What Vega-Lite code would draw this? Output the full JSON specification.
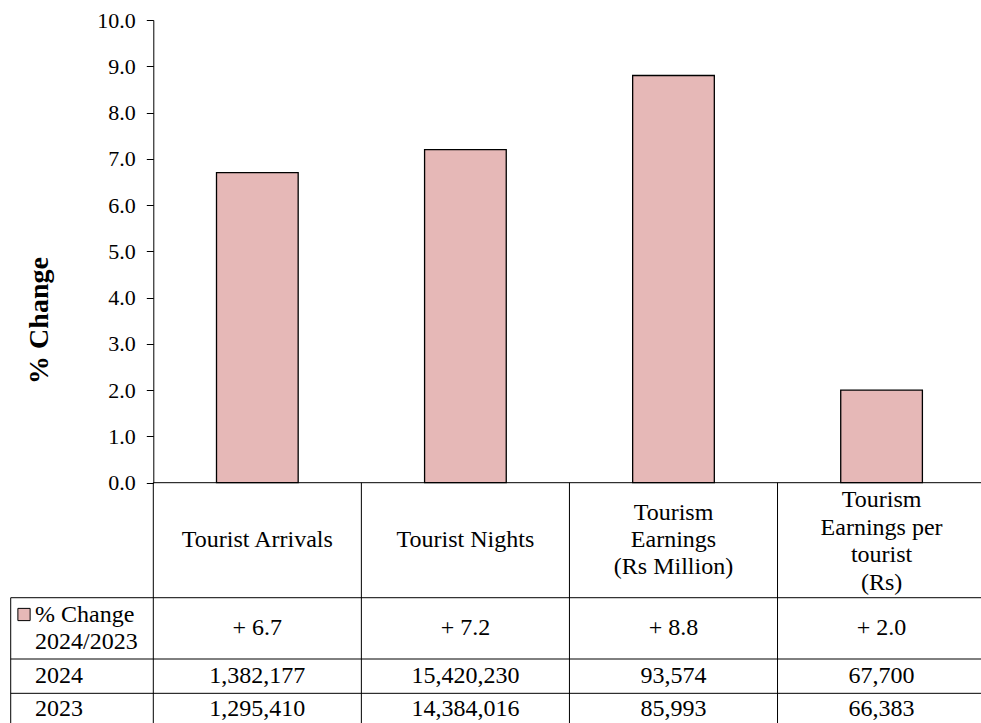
{
  "$schema": "https://vega.github.io/schema/vega-lite/v6.json",
  "width": 827.7,
  "height": 462.7,
  "autosize": {"type": "none"},
  "padding": {"left": 153.3, "top": 20, "right": 0, "bottom": 240.3},
  "background": "white",
  "config": {"view": {"stroke": null}, "font": "Liberation Serif"},
  "data": {
    "values": [
      {"category": "Tourist Arrivals", "header": "Tourist Arrivals", "pct": 6.7, "pctLabel": "+ 6.7", "y2024": 1382177, "y2023": 1295410},
      {"category": "Tourist Nights", "header": "Tourist Nights", "pct": 7.2, "pctLabel": "+ 7.2", "y2024": 15420230, "y2023": 14384016},
      {"category": "Tourism Earnings (Rs Million)", "header": "Tourism\nEarnings\n(Rs Million)", "pct": 8.8, "pctLabel": "+ 8.8", "y2024": 93574, "y2023": 85993},
      {"category": "Tourism Earnings per tourist (Rs)", "header": "Tourism\nEarnings per\ntourist\n(Rs)", "pct": 2.0, "pctLabel": "+ 2.0", "y2024": 67700, "y2023": 66383}
    ]
  },
  "resolve": {"scale": {"x": "independent"}},
  "layer": [
    {
      "layer": [
        {
          "mark": {"type": "bar", "fill": "#E6B8B7", "stroke": "#000000", "strokeWidth": 1.3},
          "encoding": {
            "x": {"field": "category", "type": "nominal", "sort": null, "axis": null,
                  "scale": {"range": [0, 832.3], "paddingInner": 0.6075, "paddingOuter": 0.30375}},
            "y": {"field": "pct", "type": "quantitative",
                  "scale": {"domain": [0, 10], "nice": false},
                  "axis": {"title": "% Change", "titleFont": "Liberation Serif", "titleFontSize": 28, "titleFontWeight": "bold",
                           "titleColor": "#000000", "titleX": -105.5, "titleY": 300, "titleAngle": -90, "titleAlign": "center",
                           "titleBaseline": "alphabetic",
                           "values": [0, 1, 2, 3, 4, 5, 6, 7, 8, 9, 10], "format": ".1f",
                           "labelFont": "Liberation Serif", "labelFontSize": 22, "labelColor": "#000000", "labelPadding": 11,
                           "labelFlush": false, "labelOverlap": false,
                           "tickSize": 7, "tickColor": "#000000", "tickWidth": 1, "domainColor": "#000000", "domainWidth": 1, "grid": false}}
          }
        },
        {
          "mark": {"type": "rule", "stroke": "#000000", "strokeWidth": 1},
          "encoding": {
            "x": {"field": "category", "type": "nominal", "sort": null, "axis": null, "bandPosition": -0.7739},
            "y": {"datum": 0},
            "y2": {"datum": -5.3}
          }
        },
        {
          "transform": [{"filter": "length(split(datum.header, '\\n')) == 1"}],
          "mark": {"type": "text", "fontSize": 24, "baseline": "middle", "align": "center", "color": "#000000"},
          "encoding": {
            "x": {"field": "category", "type": "nominal", "sort": null, "axis": null},
            "y": {"datum": -1.2427},
            "text": {"field": "header"}
          }
        },
        {
          "transform": [{"filter": "length(split(datum.header, '\\n')) == 3"}],
          "mark": {"type": "text", "fontSize": 24, "lineBreak": "\n", "lineHeight": 26.7, "baseline": "middle", "align": "center", "color": "#000000"},
          "encoding": {
            "x": {"field": "category", "type": "nominal", "sort": null, "axis": null},
            "y": {"datum": -0.6613},
            "text": {"field": "header"}
          }
        },
        {
          "transform": [{"filter": "length(split(datum.header, '\\n')) == 4"}],
          "mark": {"type": "text", "fontSize": 24, "lineBreak": "\n", "lineHeight": 27.5, "baseline": "middle", "align": "center", "color": "#000000"},
          "encoding": {
            "x": {"field": "category", "type": "nominal", "sort": null, "axis": null},
            "y": {"datum": -0.3739},
            "text": {"field": "header"}
          }
        },
        {
          "mark": {"type": "text", "fontSize": 24, "baseline": "middle", "align": "center", "color": "#000000"},
          "encoding": {
            "x": {"field": "category", "type": "nominal", "sort": null, "axis": null},
            "y": {"datum": -3.148},
            "text": {"field": "pctLabel"}
          }
        },
        {
          "mark": {"type": "text", "fontSize": 24, "baseline": "middle", "align": "center", "color": "#000000"},
          "encoding": {
            "x": {"field": "category", "type": "nominal", "sort": null, "axis": null},
            "y": {"datum": -4.178},
            "text": {"field": "y2024", "type": "quantitative", "format": ",d"}
          }
        },
        {
          "mark": {"type": "text", "fontSize": 24, "baseline": "middle", "align": "center", "color": "#000000"},
          "encoding": {
            "x": {"field": "category", "type": "nominal", "sort": null, "axis": null},
            "y": {"datum": -4.895},
            "text": {"field": "y2023", "type": "quantitative", "format": ",d"}
          }
        }
      ]
    },
    {
      "data": {"values": [{}]},
      "layer": [
        {
          "mark": {"type": "rule", "stroke": "#000000", "strokeWidth": 1},
          "encoding": {
            "x": {"datum": 0, "type": "quantitative", "axis": null, "scale": {"domain": [0, 4], "range": [0, 832.3]}},
            "x2": {"datum": 4},
            "y": {"datum": 0}
          }
        },
        {
          "mark": {"type": "rule", "stroke": "#000000", "strokeWidth": 1},
          "encoding": {
            "x": {"datum": -0.6853, "type": "quantitative", "axis": null},
            "x2": {"datum": 4},
            "y": {"datum": -2.4855}
          }
        },
        {
          "mark": {"type": "rule", "stroke": "#000000", "strokeWidth": 1},
          "encoding": {
            "x": {"datum": -0.6853, "type": "quantitative", "axis": null},
            "x2": {"datum": 4},
            "y": {"datum": -3.8104}
          }
        },
        {
          "mark": {"type": "rule", "stroke": "#000000", "strokeWidth": 1},
          "encoding": {
            "x": {"datum": -0.6853, "type": "quantitative", "axis": null},
            "x2": {"datum": 4},
            "y": {"datum": -4.552}
          }
        },
        {
          "mark": {"type": "rule", "stroke": "#000000", "strokeWidth": 1},
          "encoding": {
            "x": {"datum": -0.6853, "type": "quantitative", "axis": null},
            "y": {"datum": -2.4855},
            "y2": {"datum": -5.3}
          }
        },
        {
          "mark": {"type": "point", "shape": "square", "size": 150, "filled": true, "fill": "#E6B8B7", "stroke": "#000000", "strokeWidth": 1, "opacity": 1},
          "encoding": {
            "x": {"datum": -0.6214, "type": "quantitative", "axis": null},
            "y": {"datum": -2.8485}
          }
        },
        {
          "mark": {"type": "text", "fontSize": 24, "lineBreak": "\n", "lineHeight": 26.7, "baseline": "middle", "align": "left", "color": "#000000"},
          "encoding": {
            "x": {"datum": -0.5686, "type": "quantitative", "axis": null},
            "y": {"datum": -2.8593},
            "text": {"value": "% Change\n2024/2023"}
          }
        },
        {
          "mark": {"type": "text", "fontSize": 24, "baseline": "middle", "align": "left", "color": "#000000"},
          "encoding": {
            "x": {"datum": -0.5686, "type": "quantitative", "axis": null},
            "y": {"datum": -4.178},
            "text": {"value": "2024"}
          }
        },
        {
          "mark": {"type": "text", "fontSize": 24, "baseline": "middle", "align": "left", "color": "#000000"},
          "encoding": {
            "x": {"datum": -0.5686, "type": "quantitative", "axis": null},
            "y": {"datum": -4.895},
            "text": {"value": "2023"}
          }
        }
      ]
    }
  ]
}
